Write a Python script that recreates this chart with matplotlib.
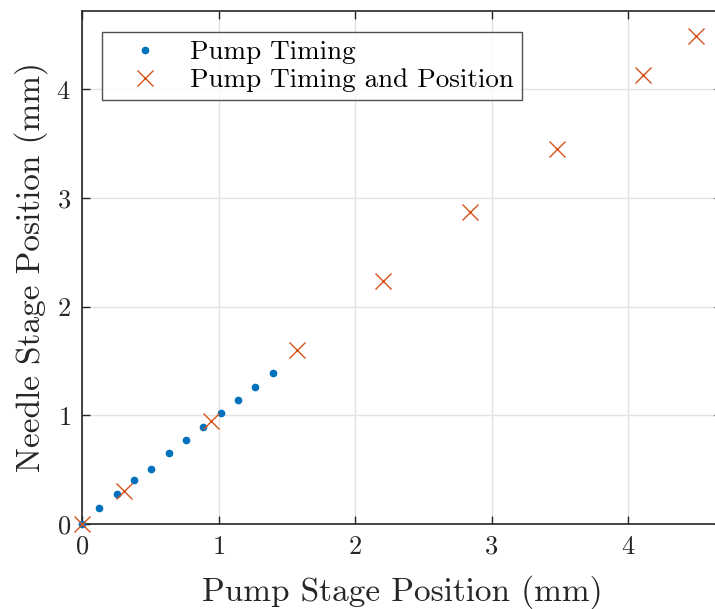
import matplotlib
matplotlib.use("Agg")
import matplotlib.pyplot as plt

plt.rcParams['font.family'] = ['cmr10', 'DejaVu Serif']
plt.rcParams['mathtext.fontset'] = 'cm'
plt.rcParams['axes.formatter.use_mathtext'] = True

timing_x = [0.0, 0.127, 0.254, 0.381, 0.508, 0.635, 0.762, 0.889, 1.016, 1.143, 1.270, 1.397]
timing_y = [0.0, 0.150, 0.279, 0.402, 0.509, 0.651, 0.770, 0.889, 1.021, 1.140, 1.260, 1.385]

pos_x = [0.0, 0.305, 0.943, 1.575, 2.205, 2.842, 3.480, 4.112, 4.496]
pos_y = [0.0, 0.304, 0.950, 1.600, 2.235, 2.870, 3.450, 4.130, 4.490]

W, H = 715, 609
fig = plt.figure(figsize=(W/100, H/100), dpi=100)
left, right, top, bottom = 82, 722, 11, 524
ax = fig.add_axes([left/W, (H-bottom)/H, (right-left)/W, (bottom-top)/H])

ax.plot(timing_x, timing_y, linestyle='none', marker='o', markersize=4.5,
        color='#0072BD', label='Pump Timing', zorder=3, clip_on=False)
ax.plot(pos_x, pos_y, linestyle='none', marker='x', markersize=12, markeredgewidth=1.0,
        color='#D95319', label='Pump Timing and Position', zorder=4, clip_on=False)

ax.set_xlim(0, (right-left)/136.5)
ax.set_ylim(0, (bottom-top)/108.7)
ax.set_xticks([0, 1, 2, 3, 4])
ax.set_yticks([0, 1, 2, 3, 4])
ax.grid(True, color='#e3e3e3', linewidth=1.0)
ax.set_axisbelow(True)
for s in ax.spines.values():
    s.set_color('#262626')
    s.set_linewidth(1.2)
ax.tick_params(direction='in', length=6, width=1.0, colors='#262626',
               top=True, right=True, labelsize=19, pad=8)
for t in ax.get_xticklabels() + ax.get_yticklabels():
    t.set_color('#262626')

ax.set_xlabel('Pump Stage Position (mm)', fontsize=24, color='#262626', labelpad=12)
ax.set_ylabel('Needle Stage Position (mm)', fontsize=24, color='#262626', labelpad=6)

leg = ax.legend(loc='upper left', bbox_to_anchor=((102-left)/(right-left), 1-(32-top)/(bottom-top)),
                fontsize=19.5, frameon=True, fancybox=False, borderpad=0.3,
                handletextpad=0.35, labelspacing=0.15, borderaxespad=0, handlelength=2.6)
leg.get_frame().set_edgecolor('#262626')
leg.get_frame().set_linewidth(1.0)

fig.savefig('out.png', dpi=100)
